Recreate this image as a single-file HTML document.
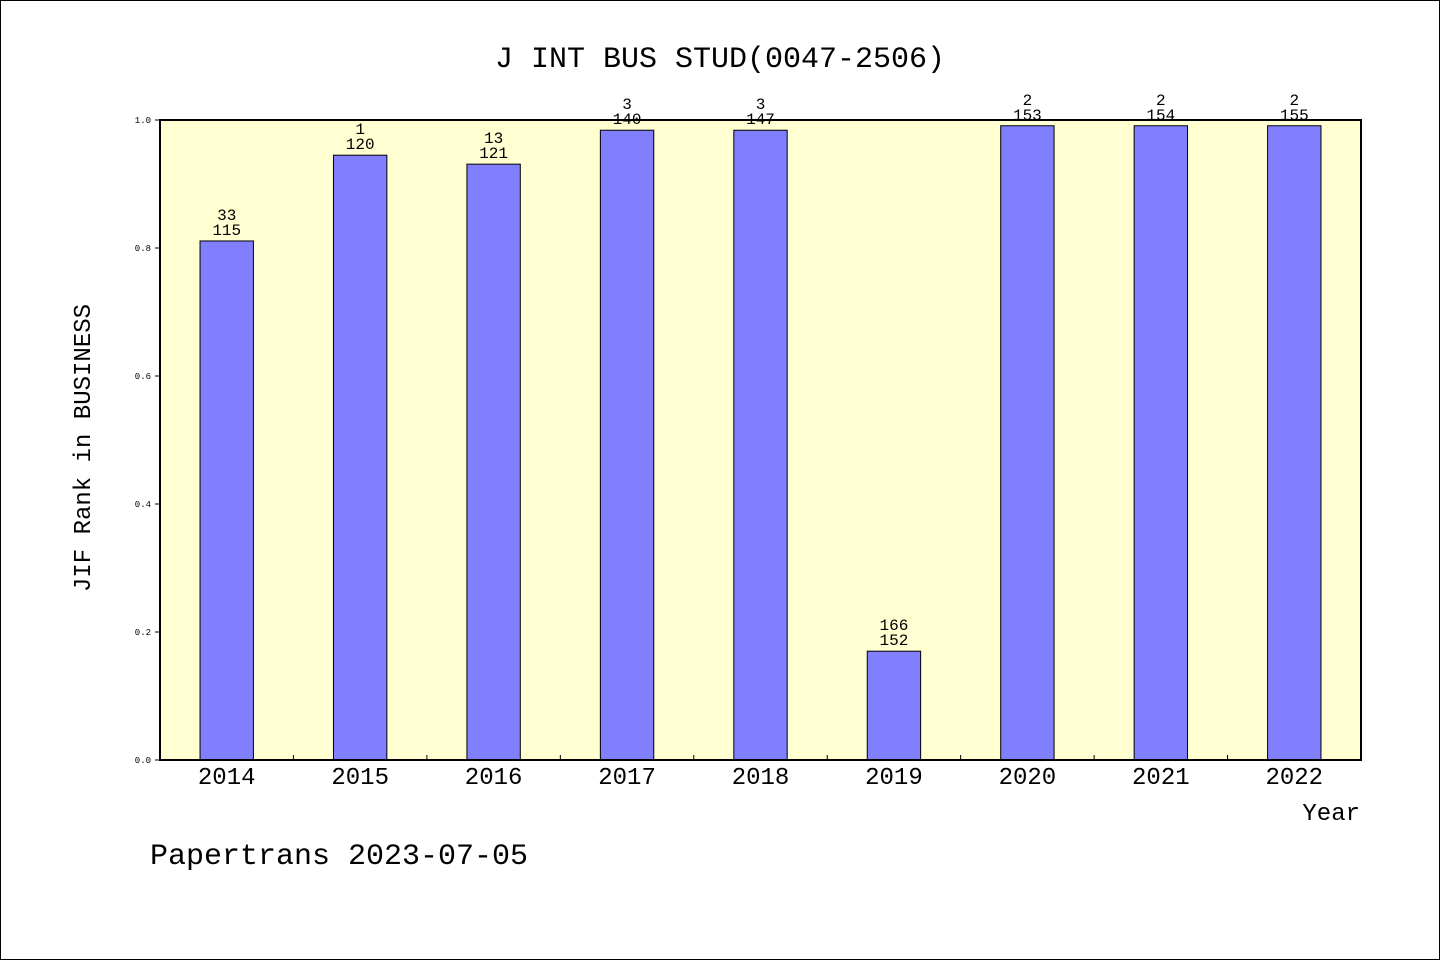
<!DOCTYPE html>
<html><head><meta charset="utf-8"><style>
body{margin:0;background:#fff}
svg{display:block}
text{font-family:"Liberation Mono","WenQuanYi Zen Hei",monospace;fill:#000}
</style></head><body>
<svg id="c" width="1440" height="960">
<rect x="0.5" y="0.5" width="1439" height="959" fill="#fff" stroke="#000"/>
<text x="720" y="67" font-size="30" text-anchor="middle">J INT BUS STUD(0047-2506)</text>
<rect x="160" y="120" width="1201" height="640" fill="#ffffd2"/>
<g id="bars"></g>
<rect x="160" y="120" width="1201" height="640" fill="none" stroke="#000" stroke-width="2"/>
<g id="axes"></g>
<text transform="translate(90,448) rotate(-90)" font-size="24" text-anchor="middle">JIF Rank in BUSINESS</text>
<text x="1360" y="820" font-size="24" text-anchor="end">Year</text>
<text x="150" y="864" font-size="30">Papertrans 2023-07-05</text>
</svg>
<script>
const categories=["2014","2015","2016","2017","2018","2019","2020","2021","2022"];
const values=[0.811,0.945,0.931,0.984,0.984,0.170,0.991,0.991,0.991];
const ranks=["33","1","13","3","3","166","2","2","2"];
const totals=["115","120","121","140","147","152","153","154","155"];
const yTicks=[0,0.2,0.4,0.6,0.8,1.0];
const x0=160,x1=1361,y0=760,y1=120;
const band=(x1-x0)/categories.length;
const xc=i=>x0+band*(i+0.5);
const y=v=>y0-(y0-y1)*v;
const NS="http://www.w3.org/2000/svg";
function mk(t,a,p){const e=document.createElementNS(NS,t);for(const k in a)e.setAttribute(k,a[k]);p.appendChild(e);return e;}
const bars=document.getElementById('bars'),axes=document.getElementById('axes');
categories.forEach((c,i)=>{
  const w=band*0.4;
  const r=mk('rect',{x:xc(i)-w/2,y:y(values[i]),width:w,height:y0-y(values[i]),fill:'#8080ff',stroke:'#000','stroke-width':1},bars);
  
  
  const t1=mk('text',{x:xc(i),y:y(values[i])-21,'font-size':16,'text-anchor':'middle'},bars);t1.textContent=ranks[i];
  
  
  const t2=mk('text',{x:xc(i),y:y(values[i])-6,'font-size':16,'text-anchor':'middle'},bars);t2.textContent=totals[i];
  
  
  const xl=mk('text',{x:xc(i),y:784,'font-size':24,'text-anchor':'middle'},axes);xl.textContent=c;
  
  
  if(i>0){const tk=mk('line',{x1:x0+band*i,x2:x0+band*i,y1:y0,y2:y0-5,stroke:'#000'},axes);
  
  }
});
yTicks.forEach(v=>{
  const l=mk('line',{x1:x0-5,x2:x0,y1:y(v),y2:y(v),stroke:'#000'},axes);
  
  
  const t=mk('text',{x:x0-9,y:y(v)+3,'font-size':9,'text-anchor':'end'},axes);t.textContent=v.toFixed(1);
  
  
});
</script>
</body></html>
